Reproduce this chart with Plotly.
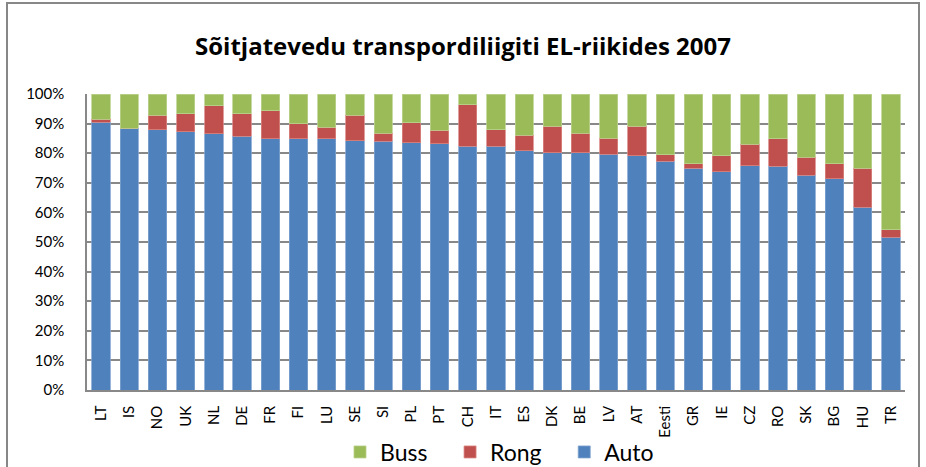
import plotly.graph_objects as go

countries = ["LT","IS","NO","UK","NL","DE","FR","FI","LU","SE","SI","PL","PT","CH","IT",
             "ES","DK","BE","LV","AT","Eesti","GR","IE","CZ","RO","SK","BG","HU","TR"]
auto = [90.4,88.4,88.0,87.2,86.6,85.8,84.9,84.9,84.9,84.2,84.1,83.6,83.2,82.4,82.3,
        80.9,80.2,80.1,79.6,79.1,77.2,74.9,73.8,75.8,75.6,72.6,71.3,61.7,51.6]
rong_top = [91.4,88.5,92.8,93.4,96.1,93.4,94.4,89.9,88.8,92.8,86.8,90.3,87.8,96.4,88.0,
            86.1,89.1,86.8,85.0,89.1,79.4,76.4,79.1,83.0,84.8,78.6,76.4,74.9,54.2]
rong = [round(r - a, 1) for r, a in zip(rong_top, auto)]
buss = [round(100 - r, 1) for r in rong_top]
yticks = [0,10,20,30,40,50,60,70,80,90,100]
ytick_text = [f"{v}%" for v in yticks]
series_names = ["Auto", "Rong", "Buss"]

FONT = "Lato"
PAD = "\u00a0" * 3
fig = go.Figure()
fig.add_bar(x=countries, y=auto, name=series_names[0] + PAD,
            marker=dict(color="#4F81BD", line=dict(color="#7FA3D0", width=0.8)))
fig.add_bar(x=countries, y=rong, name=series_names[1] + PAD,
            marker=dict(color="#C0504D", line=dict(color="#D88683", width=0.8)))
fig.add_bar(x=countries, y=buss, name=series_names[2] + PAD,
            marker=dict(color="#9BBB59", line=dict(color="#BBD28E", width=0.8)))

fig.update_layout(
    barmode="stack",
    bargap=0.35,
    width=926, height=467,
    margin=dict(l=87, r=21, t=94, b=77, autoexpand=False),
    paper_bgcolor="white", plot_bgcolor="white",
    font=dict(family=FONT, color="black"),
    title=dict(text="<b>Sõitjatevedu transpordiliigiti EL-riikides 2007</b>",
               x=0.5, xref="container", xanchor="center", y=1 - 47/467, yanchor="middle",
               font=dict(family="Open Sans", size=24, color="black")),
    legend=dict(orientation="h", x=340/926, xref="container", xanchor="left",
                y=1 - 452/467, yref="container", yanchor="middle",
                traceorder="reversed", font=dict(size=23, family=FONT),
                itemwidth=30, bgcolor="rgba(0,0,0,0)"),
    showlegend=True,
)
fig.update_yaxes(range=[0, 100], tickvals=yticks, ticktext=ytick_text,
                 showgrid=True, gridcolor="#888888", gridwidth=1.5,
                 showline=True, linecolor="#888888", linewidth=1.5,
                 ticks="", ticklabelstandoff=18, tickfont=dict(size=15, family=FONT),
                 zeroline=False, automargin=False)
fig.update_xaxes(tickangle=-90, showline=True, linecolor="#888888", linewidth=1.5,
                 ticks="", tickfont=dict(size=15, family=FONT), ticklabelstandoff=8,
                 automargin=False)

# outer chart border
fig.add_shape(type="rect", xref="paper", yref="paper",
              x0=(7-87)/818, x1=(919-87)/818, y0=(390-475)/296, y1=(390-3)/296,
              line=dict(color="#878787", width=2), fillcolor="rgba(0,0,0,0)", layer="below")

fig.write_html("out.html", config={"displayModeBar": False},
               post_script="document.body.style.margin='0px';")
